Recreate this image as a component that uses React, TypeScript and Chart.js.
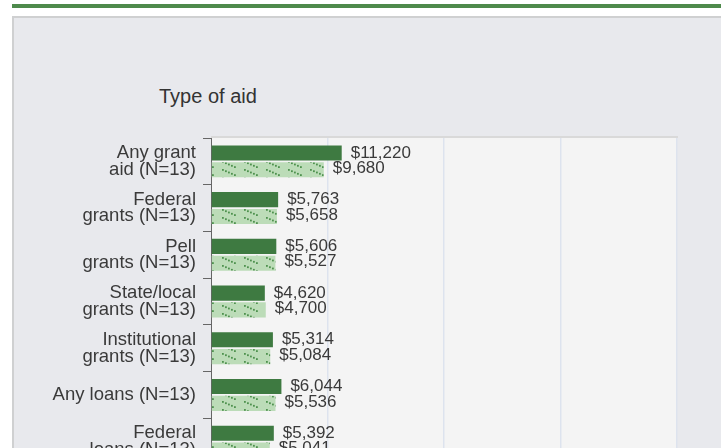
import { useEffect, useRef } from "react";
import { Chart, registerables } from "chart.js";

Chart.register(...registerables);

const categories: (string | string[])[] = [
  ["Any grant", "aid (N=13)"],
  ["Federal", "grants (N=13)"],
  ["Pell", "grants (N=13)"],
  ["State/local", "grants (N=13)"],
  ["Institutional", "grants (N=13)"],
  "Any loans (N=13)",
  ["Federal", "loans (N=13)"],
];
const seriesDark = [11220, 5763, 5606, 4620, 5314, 6044, 5392];
const seriesLight = [9680, 5658, 5527, 4700, 5084, 5536, 5041];
const xMin = 0;
const xMax = 40000;
const xStep = 10000;
const axisTitle = "Type of aid";

const FONT = "'Liberation Sans', Arial, sans-serif";
const CANVAS_H = 560;
const TEXT = "#3a3a3a";

function makePattern(ctx: CanvasRenderingContext2D) {
  const pc = document.createElement("canvas");
  pc.width = 22;
  pc.height = 8;
  const p = pc.getContext("2d")!;
  p.fillStyle = "#bcdcb8";
  p.fillRect(0, 0, 22, 8);
  p.fillStyle = "#4f924f";
  for (let k = 0; k < 5; k++) {
    p.fillRect(2 + k * 3, 1 + k * 1.3, 1.8, 1.8);
  }
  return ctx.createPattern(pc, "repeat")!;
}

export default function App() {
  const ref = useRef<HTMLCanvasElement>(null);

  useEffect(() => {
    const canvas = ref.current!;
    const ctx = canvas.getContext("2d")!;
    const pattern = makePattern(ctx);

    const bgPlugin = {
      id: "plotBg",
      beforeDraw(chart: any) {
        const { ctx, chartArea } = chart;
        ctx.save();
        ctx.fillStyle = "#f4f4f4";
        ctx.fillRect(chartArea.left, chartArea.top, chartArea.right - chartArea.left, chartArea.bottom - chartArea.top);
        ctx.fillStyle = "#d9d9d9";
        ctx.fillRect(chartArea.left, chartArea.top - 2, chartArea.right - chartArea.left + 1, 2);
        ctx.restore();
      },
    };

    const labelPlugin = {
      id: "valueLabels",
      afterDatasetsDraw(chart: any) {
        const c = chart.ctx;
        c.save();
        c.font = `17px ${FONT}`;
        c.fillStyle = TEXT;
        c.textBaseline = "middle";
        c.textAlign = "left";
        chart.data.datasets.forEach((ds: any, di: number) => {
          const meta = chart.getDatasetMeta(di);
          meta.data.forEach((bar: any, i: number) => {
            const v = ds.data[i] as number;
            c.fillText("$" + v.toLocaleString("en-US"), bar.x + 9, bar.y + (di === 1 ? -1.5 : 0));
          });
        });
        c.restore();
      },
    };

    const chart = new Chart(canvas, {
      type: "bar",
      data: {
        labels: categories as any,
        datasets: [
          {
            label: "Dark",
            data: seriesDark,
            backgroundColor: "#3e7a41",
            borderWidth: 0,
            categoryPercentage: 0.72,
            barPercentage: 0.9,
          },
          {
            label: "Light",
            data: seriesLight,
            backgroundColor: pattern as any,
            borderWidth: 0,
            categoryPercentage: 0.72,
            barPercentage: 0.9,
          },
        ],
      },
      options: {
        indexAxis: "y",
        responsive: false,
        devicePixelRatio: 1,
        animation: false,
        layout: { padding: { top: 138, right: 44, left: 0, bottom: 0 } },
        plugins: {
          legend: { display: false },
          tooltip: { enabled: false },
          title: { display: false },
        },
        scales: {
          x: {
            min: xMin,
            max: xMax,
            ticks: {
              stepSize: xStep,
              color: TEXT,
              font: { family: FONT, size: 15 },
              callback: (v: any) => "$" + Number(v).toLocaleString("en-US"),
            },
            grid: {
              color: (c: any) => (c.index === 0 ? "rgba(0,0,0,0)" : "#dde3ee"),
              lineWidth: 1.5,
              drawTicks: false,
            },
            border: { display: false },
            afterFit: (s: any) => {
              s.height = CANVAS_H - 465;
            },
          },
          y: {
            grid: {
              display: true,
              drawOnChartArea: false,
              drawTicks: true,
              tickLength: 8,
              color: "#666666",
              offset: true,
            },
            border: { display: true, color: "#666666", width: 1 },
            ticks: {
              color: TEXT,
              autoSkip: false,
              padding: 7,
              font: { family: FONT, size: 18.5, lineHeight: 0.9 },
            },
            afterFit: (s: any) => {
              s.width = 211;
            },
          },
        },
      },
      plugins: [bgPlugin, labelPlugin],
    });
    return () => chart.destroy();
  }, []);

  return (
    <div
      style={{
        position: "absolute",
        left: 0,
        top: 0,
        width: 721,
        height: 448,
        overflow: "hidden",
        background: "#ffffff",
      }}
    >
      <div style={{ position: "absolute", left: 12, top: 4, width: 709, height: 3.5, background: "#4e8a4c" }} />
      <div
        style={{
          position: "absolute",
          left: 12,
          top: 16,
          width: 760,
          height: 600,
          boxSizing: "border-box",
          border: "2px solid #cfd0d1",
          background: "#e8e9ed",
        }}
      />
      <div
        style={{
          position: "absolute",
          left: 159,
          top: 85,
          fontFamily: FONT,
          fontSize: 20,
          color: "#333",
          whiteSpace: "nowrap",
        }}
      >
        {axisTitle}
      </div>
      <canvas
        ref={ref}
        width={721}
        height={CANVAS_H}
        style={{ position: "absolute", left: 0, top: 0, width: 721, height: CANVAS_H }}
      />
    </div>
  );
}
